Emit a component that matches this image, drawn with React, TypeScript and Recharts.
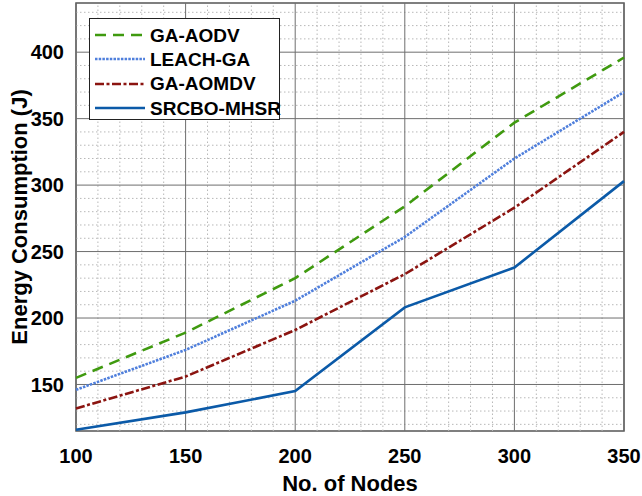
import React from "react";
import { LineChart, Line, XAxis, YAxis, ReferenceLine, ReferenceArea } from "recharts";

const nodes = [100, 150, 200, 250, 300, 350];
const gaAodv = [155, 189, 230, 284, 347, 396];
const leachGa = [146, 176, 213, 261, 320, 370];
const gaAomdv = [132, 156, 191, 233, 283, 340];
const srcbo = [116, 129, 145, 208, 238, 303];

const xTicks = [100, 150, 200, 250, 300, 350];
const yTicks = [150, 200, 250, 300, 350, 400];
const xMinor = [110, 120, 130, 140, 160, 170, 180, 190, 210, 220, 230, 240, 260, 270, 280, 290, 310, 320, 330, 340];
const yMinor = [120, 130, 140, 160, 170, 180, 190, 210, 220, 230, 240, 260, 270, 280, 290, 310, 320, 330, 340, 360, 370, 380, 390, 410, 420, 430];

const data = nodes.map((n, i) => ({
  n,
  gaAodv: gaAodv[i],
  leachGa: leachGa[i],
  gaAomdv: gaAomdv[i],
  srcbo: srcbo[i],
}));

const series = [
  { key: "gaAodv", name: "GA-AODV", color: "#3f9a0f", dash: "11 7", width: 2.6 },
  { key: "leachGa", name: "LEACH-GA", color: "#4f7fdc", dash: "2.5 1.2", width: 2.6 },
  { key: "gaAomdv", name: "GA-AOMDV", color: "#8b1410", dash: "9 2.5 3 2.5", width: 2.6 },
  { key: "srcbo", name: "SRCBO-MHSR", color: "#0b5aa8", dash: undefined as string | undefined, width: 2.6 },
];

const FONT = "'Liberation Sans', Arial, sans-serif";

const LegendBox = () => (
  <div
    style={{
      position: "absolute",
      left: 89,
      top: 18,
      border: "1px solid #222",
      background: "#fff",
      width: 191,
      height: 102,
      boxSizing: "border-box",
      paddingTop: 4,
      fontFamily: FONT,
      fontWeight: "bold",
      fontSize: 19,
      lineHeight: "19px",
    }}
  >
    {series.map((s) => (
      <div key={s.key} style={{ display: "flex", alignItems: "center", height: 24.3 }}>
        <svg width={56} height={10} style={{ marginLeft: 4, flex: "none" }}>
          <line x1={1} y1={5} x2={51} y2={5} stroke={s.color} strokeWidth={2.6} strokeDasharray={s.dash} />
        </svg>
        <span style={{ color: "#000", whiteSpace: "nowrap" }}>{s.name}</span>
      </div>
    ))}
  </div>
);

const YLabel = () => (
  <text
    x={19}
    y={217}
    transform="rotate(-90 19 217)"
    textAnchor="middle"
    dominantBaseline="central"
    fill="#000"
    fontSize={22}
    fontWeight="bold"
    fontFamily={FONT}
  >
    Energy Consumption (J)
  </text>
);

export default function App() {
  return (
    <div style={{ position: "absolute", left: 0, top: 0, width: 642, height: 496, background: "#fff" }}>
      <LineChart width={642} height={496} data={data} margin={{ top: 3, right: 18, left: 0, bottom: 0 }}>
        <XAxis
          dataKey="n"
          type="number"
          domain={[100, 350]}
          ticks={xTicks}
          height={65}
          axisLine={false}
          tickLine={false}
          tickMargin={12}
          tick={{ fill: "#000", fontSize: 20, fontWeight: "bold", fontFamily: FONT }}
          label={{
            value: "No. of Nodes",
            position: "insideBottom",
            offset: 5,
            fill: "#000",
            fontSize: 22,
            fontWeight: "bold",
            fontFamily: FONT,
          }}
        />
        <YAxis
          type="number"
          domain={[115, 437]}
          ticks={yTicks}
          width={76}
          axisLine={false}
          tickLine={false}
          tickMargin={6}
          allowDataOverflow
          tick={{ fill: "#000", fontSize: 20, fontWeight: "bold", fontFamily: FONT }}
          label={<YLabel />}
        />
        {xMinor.map((v) => (
          <ReferenceLine key={"xm" + v} x={v} stroke="#b8b8b8" strokeDasharray="1.5 2.5" strokeWidth={1} />
        ))}
        {yMinor.map((v) => (
          <ReferenceLine key={"ym" + v} y={v} stroke="#b8b8b8" strokeDasharray="1.5 2.5" strokeWidth={1} />
        ))}
        {xTicks.map((v) => (
          <ReferenceLine key={"xM" + v} x={v} stroke="#6e6e6e" strokeWidth={1} />
        ))}
        {yTicks.map((v) => (
          <ReferenceLine key={"yM" + v} y={v} stroke="#6e6e6e" strokeWidth={1} />
        ))}
        <ReferenceArea x1={100} x2={350} y1={115} y2={437} fill="none" stroke="#555" strokeWidth={1.5} />
        {series.map((s) => (
          <Line
            key={s.key}
            dataKey={s.key}
            name={s.name}
            stroke={s.color}
            strokeWidth={s.width}
            strokeDasharray={s.dash}
            dot={false}
            activeDot={false}
            isAnimationActive={false}
            type="linear"
          />
        ))}
      </LineChart>
      <LegendBox />
    </div>
  );
}
